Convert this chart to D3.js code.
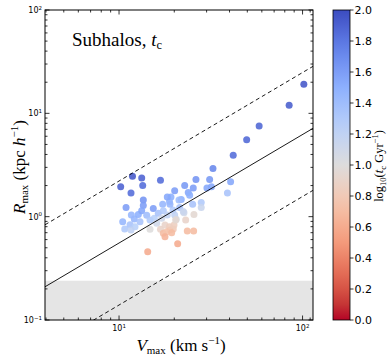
<!DOCTYPE html>
<html><head><meta charset="utf-8">
<script src="https://cdn.jsdelivr.net/npm/d3@7"></script>
<style>body{margin:0;background:#fff}svg{display:block}</style>
</head><body><svg id="c" width="392" height="358"></svg>
<script>
// ---- data ----
const vmax = [101.6,84.5,58.0,49.6,41.9,32.5,11.84,13.29,16.82,10.21,13.46,11.62,
  26.25,31.17,40.55,22.79,25.38,30.13,31.88,20.1,23.83,24.26,38.96,28.05,28.05,21.83,19.19,18.83,19.68,21.40,22.59,25.6,23.07,20.1,20.51,
  10.92,13.56,15.37,13.56,17.29,18.95,18.32,21.21,25.19,22.39,
  11.67,10.47,10.74,11.48,12.11,12.74,13.29,14.15,14.75,13.01,12.22,11.62,15.57,16.36,17.43,18.32,17.08,16.04,14.75,16.82,17.80,18.83,19.75,18.95,19.93,20.35,
  17.43,18.18,19.36,17.8,23.54,25.5,20.87,14.33];
const rmax = [19.1,12.0,7.54,5.56,3.92,2.92,2.46,2.37,2.25,1.95,2.00,1.69,
  2.29,2.29,2.18,2.00,1.89,1.89,1.95,1.78,1.71,1.61,1.69,1.37,1.23,1.47,1.55,1.40,1.16,1.23,1.09,1.05,0.928,1.04,0.943,
  1.23,1.45,1.20,1.28,1.32,1.32,1.55,1.45,1.32,1.12,
  1.04,0.894,0.760,0.836,0.949,1.05,1.14,1.03,0.928,0.894,0.800,0.743,0.964,1.08,1.14,1.04,0.964,0.863,0.755,0.755,0.830,0.800,0.760,0.743,0.830,0.928,
  0.690,0.715,0.700,0.640,0.726,0.726,0.548,0.458];
const logTc = [1.95,1.92,1.88,1.87,1.85,1.72,1.95,1.9,1.85,1.9,1.85,1.85,
  1.65,1.62,1.55,1.62,1.6,1.55,1.55,1.6,1.55,1.5,1.35,1.3,1.15,1.5,1.5,1.45,1.3,1.35,1.1,0.95,0.9,1.2,1.05,
  1.6,1.65,1.6,1.6,1.45,1.45,1.55,1.4,1.35,1.15,
  1.45,1.45,1.3,1.35,1.45,1.5,1.55,1.4,1.3,1.35,1.25,1.2,1.25,1.35,1.3,1.2,1.1,1.1,1.0,0.9,0.9,0.85,0.8,0.8,0.85,0.95,
  0.7,0.75,0.7,0.65,0.7,0.7,0.6,0.6];
const xMajor = [10,100];
const xMinor = [4,5,6,7,8,9,20,30,40,50,60,70,80,90,110];
const yMajor = [0.1,1,10,100];
const yMinor = [0.2,0.3,0.4,0.5,0.6,0.7,0.8,0.9,2,3,4,5,6,7,8,9,20,30,40,50,60,70,80,90];
const cbTicks = [0,0.2,0.4,0.6,0.8,1.0,1.2,1.4,1.6,1.8,2.0];
const relSlope = 1.05, relIntercept = -1.305;       // log10 R = a + b log10 V
const relOffsets = [0, 0.6, -0.6];                  // dex
const bandR = [0.1, 0.24];
const coolwarm = ["#3b4cc0","#6282ea","#8db0fe","#b8d0f9","#dddcdc","#f5c4ac","#f49a7b","#de604d","#b40426"];

// ---- layout ----
const svg = d3.select("#c");
const L=45, Rt=313, T=10, B=320;
const x = d3.scaleLog().domain([3.95,114]).range([L,Rt]);
const y = d3.scaleLog().domain([0.1,100]).range([B,T]);
const cmap = d3.piecewise(d3.interpolateLab, coolwarm);
const color = v => cmap(1 - v/2);

svg.append("defs").append("clipPath").attr("id","clip")
  .append("rect").attr("x",L).attr("y",T).attr("width",Rt-L).attr("height",B-T);
const g = svg.append("g").attr("clip-path","url(#clip)");

// band
g.append("rect").attr("x",L).attr("width",Rt-L)
  .attr("y",y(bandR[1])).attr("height",y(bandR[0])-y(bandR[1]))
  .attr("fill","#e5e5e5");

// points
const pts = vmax.map((v,i)=>({v, r:rmax[i], c:logTc[i]}));
g.selectAll("circle").data(pts).join("circle")
  .attr("cx",d=>x(d.v)).attr("cy",d=>y(d.r)).attr("r",3.5)
  .attr("fill",d=>color(d.c)).attr("fill-opacity",0.88);

// relation lines
const vdom = x.domain();
relOffsets.forEach(off=>{
  const f = v => Math.pow(10, relIntercept + off + relSlope*Math.log10(v));
  g.append("line")
    .attr("x1",x(vdom[0])).attr("y1",y(f(vdom[0])))
    .attr("x2",x(vdom[1])).attr("y2",y(f(vdom[1])))
    .attr("stroke","#000").attr("stroke-width",0.9)
    .attr("stroke-dasharray", off===0 ? null : "4,3");
});

// frame
svg.append("rect").attr("x",L).attr("y",T).attr("width",Rt-L).attr("height",B-T)
  .attr("fill","none").attr("stroke","#000").attr("stroke-width",1);

// ticks (inward, all sides)
const tk = svg.append("g").attr("stroke","#000").attr("stroke-width",0.8);
function xt(vals,len){ vals.forEach(v=>{ const px=x(v);
  tk.append("line").attr("x1",px).attr("x2",px).attr("y1",B).attr("y2",B-len);
  tk.append("line").attr("x1",px).attr("x2",px).attr("y1",T).attr("y2",T+len);});}
function yt(vals,len){ vals.forEach(v=>{ const py=y(v);
  tk.append("line").attr("y1",py).attr("y2",py).attr("x1",L).attr("x2",L+len);
  tk.append("line").attr("y1",py).attr("y2",py).attr("x1",Rt).attr("x2",Rt-len);});}
xt(xMajor,4.5); xt(xMinor.filter(v=>v>=vdom[0]&&v<=vdom[1]),2.5);
yt(yMajor,4.5); yt(yMinor,2.5);

// tick labels
const tf = "DejaVu Sans, sans-serif";
function powLabel(sel, v){
  const e = Math.round(Math.log10(v));
  sel.append("tspan").text("10");
  sel.append("tspan").attr("dy",-3.5).attr("font-size",5.5).text(e<0 ? "\u2212"+(-e) : String(e));
}
xMajor.forEach(v=>{
  const t = svg.append("text").attr("x",x(v)).attr("y",B+11).attr("text-anchor","middle")
    .attr("font-family",tf).attr("font-size",8).attr("fill","#000");
  powLabel(t,v);
});
yMajor.forEach(v=>{
  const t = svg.append("text").attr("x",L-3).attr("y",y(v)+3).attr("text-anchor","end")
    .attr("font-family",tf).attr("font-size",8).attr("fill","#000");
  powLabel(t,v);
});

// axis labels
const sf = "Liberation Serif, DejaVu Serif, serif";
const xl = svg.append("text").attr("x",181).attr("y",351).attr("text-anchor","middle")
  .attr("font-family",sf).attr("font-size",17).attr("fill","#000");
xl.append("tspan").attr("font-style","italic").text("V");
xl.append("tspan").attr("font-size",11).attr("dy",3).text("max");
xl.append("tspan").attr("dy",-3).text(" (km s");
xl.append("tspan").attr("font-size",11).attr("dy",-7).text("\u22121");
xl.append("tspan").attr("dy",7).text(")");

const yl = svg.append("text").attr("transform","translate(25,167) rotate(-90)").attr("text-anchor","middle")
  .attr("font-family",sf).attr("font-size",17).attr("fill","#000");
yl.append("tspan").attr("font-style","italic").text("R");
yl.append("tspan").attr("font-size",11).attr("dy",3).text("max");
yl.append("tspan").attr("dy",-3).text(" (kpc ");
yl.append("tspan").attr("font-style","italic").text("h");
yl.append("tspan").attr("font-size",11).attr("dy",-7).text("\u22121");
yl.append("tspan").attr("dy",7).text(")");

// panel title
const tt = svg.append("text").attr("x",72).attr("y",46)
  .attr("font-family",sf).attr("font-size",19).attr("fill","#000");
tt.append("tspan").text("Subhalos, ");
tt.append("tspan").attr("font-style","italic").text("t");
tt.append("tspan").attr("font-size",12.5).attr("dy",3).text("c");

// colorbar
const cx0=333, cw=17;
const cb = d3.scaleLinear().domain([0,2]).range([B,T]);
const grad = svg.select("defs").append("linearGradient").attr("id","cg")
  .attr("x1",0).attr("x2",0).attr("y1",1).attr("y2",0);
d3.range(0,1.0001,0.05).forEach(t=>grad.append("stop").attr("offset",t).attr("stop-color",color(2*t)));
svg.append("rect").attr("x",cx0).attr("y",T).attr("width",cw).attr("height",B-T)
  .attr("fill","url(#cg)").attr("stroke","#000").attr("stroke-width",0.8);
cbTicks.forEach(v=>{
  svg.append("line").attr("x1",cx0+cw).attr("x2",cx0+cw+3.5).attr("y1",cb(v)).attr("y2",cb(v))
    .attr("stroke","#000").attr("stroke-width",0.8);
  svg.append("text").attr("x",cx0+cw+4.5).attr("y",cb(v)+4).attr("font-family",tf)
    .attr("font-size",11).attr("fill","#000").text(v.toFixed(1));
});
const cl = svg.append("text").attr("transform","translate(383,166) rotate(-90)").attr("text-anchor","middle")
  .attr("font-family",sf).attr("font-size",12.5).attr("fill","#000");
cl.append("tspan").text("log");
cl.append("tspan").attr("font-size",8.5).attr("dy",3).text("10");
cl.append("tspan").attr("dy",-3).text("(");
cl.append("tspan").attr("font-style","italic").text("t");
cl.append("tspan").attr("font-size",8.5).attr("dy",2.5).text("c");
cl.append("tspan").attr("dy",-2.5).text(" Gyr");
cl.append("tspan").attr("font-size",8.5).attr("dy",-5).text("\u22121");
cl.append("tspan").attr("dy",5).text(")");
</script></body></html>
